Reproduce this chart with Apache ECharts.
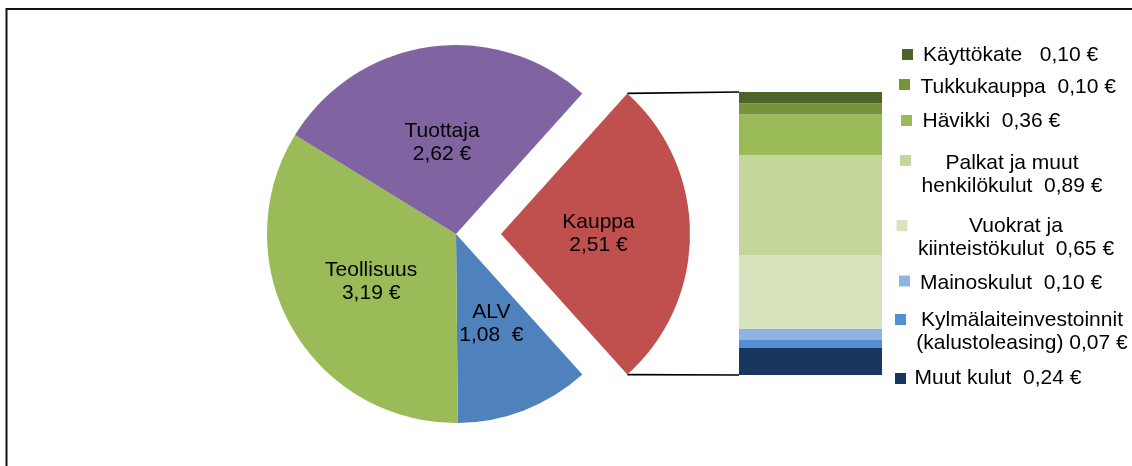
<!DOCTYPE html>
<html><head><meta charset="utf-8">
<script src="https://cdn.jsdelivr.net/npm/echarts@6/dist/echarts.min.js"></script>
<style>html,body{margin:0;padding:0;background:#fff}#c{width:1132px;height:466px}</style>
</head><body><div id="c"></div>
<script>
// ---- data ----
const pieNames = ['Kauppa', 'ALV', 'Teollisuus', 'Tuottaja'];
const pieValues = [2.51, 1.08, 3.19, 2.62];
const pieValueSep = [' ', '  ', ' ', ' '];
const barNames = ['Käyttökate', 'Tukkukauppa', 'Hävikki', 'Palkat ja muut\nhenkilökulut', 'Vuokrat ja\nkiinteistökulut', 'Mainoskulut', 'Kylmälaiteinvestoinnit\n(kalustoleasing)', 'Muut kulut'];
const barValues = [0.10, 0.10, 0.36, 0.89, 0.65, 0.10, 0.07, 0.24];
const barLegendSep = ['   ', '  ', '  ', '  ', '  ', '  ', ' ', '  '];

// ---- styles / layout ----
const pieColors = ['#C0504D', '#4F81BD', '#9BBB59', '#8064A2'];
const pieLabelDy = [0, -1, 0, 5];
const barColors = ['#4F6228', '#77933C', '#9BBB59', '#C3D69B', '#D7E4BD', '#8EB4E3', '#558ED5', '#17375E'];
const FONT = '"Liberation Sans", Arial, sans-serif';
const FS = 21;
const pieCenter = [456, 234], pieR = 189, pieOffset = 45;
const grid = {left: 739, top: 92, width: 143, height: 283};
const legendLayout = [
  {mx: 907.5, my: 54.5, tx: 923, ty: 55, align: 'left'},
  {mx: 904.5, my: 84.5, tx: 920.5, ty: 87, align: 'left'},
  {mx: 906.5, my: 120.5, tx: 922.5, ty: 121, align: 'left'},
  {mx: 905.5, my: 160.5, tx: 1012, ty: 175, align: 'center'},
  {mx: 902, my: 225.5, tx: 1016, ty: 238, align: 'center'},
  {mx: 904.5, my: 281, tx: 920, ty: 283, align: 'left'},
  {mx: 900.5, my: 319.5, tx: 1022, ty: 331.5, align: 'center'},
  {mx: 900.5, my: 378.5, tx: 914.5, ty: 378, align: 'left'}
];

const fmt = v => v.toFixed(2).replace('.', ',');
const total = pieValues.reduce((a, b) => a + b, 0);
const startAngle = pieValues[0] / total * 180;

// connector lines from exploded slice tips to bar corners
const a = startAngle * Math.PI / 180;
const tipX = pieCenter[0] + pieOffset + pieR * Math.cos(a);
const tipTop = pieCenter[1] - pieR * Math.sin(a);
const tipBot = pieCenter[1] + pieR * Math.sin(a);

const graphics = [
  {type: 'rect', z: -10, shape: {x: 6.5, y: 9, width: 1300, height: 700}, style: {fill: 'none', stroke: '#111', lineWidth: 2}},
  {type: 'line', shape: {x1: tipX, y1: tipTop, x2: grid.left, y2: grid.top}, style: {stroke: '#000', lineWidth: 1.6}},
  {type: 'line', shape: {x1: tipX, y1: tipBot, x2: grid.left, y2: grid.top + grid.height}, style: {stroke: '#000', lineWidth: 1.6}}
];
barNames.forEach((n, i) => {
  const L = legendLayout[i];
  graphics.push({type: 'rect', shape: {x: L.mx - 5.5, y: L.my - 5.5, width: 11, height: 11}, style: {fill: barColors[i]}});
  graphics.push({type: 'text', x: L.tx, y: L.ty, style: {
    text: n + barLegendSep[i] + fmt(barValues[i]) + ' €',
    fontSize: FS, fontFamily: FONT, fill: '#000', align: L.align, verticalAlign: 'middle', lineHeight: 23
  }});
});

const barSeries = [];
for (let i = barNames.length - 1; i >= 0; i--) {
  barSeries.push({
    type: 'bar', name: barNames[i], stack: 'k', data: [barValues[i]],
    barWidth: '100%', itemStyle: {color: barColors[i]}, emphasis: {disabled: true}
  });
}

const chart = echarts.init(document.getElementById('c'), null, {renderer: 'canvas'});
chart.setOption({
  animation: false,
  backgroundColor: '#fff',
  grid: {left: grid.left, top: grid.top, width: grid.width, height: grid.height, containLabel: false},
  xAxis: {type: 'category', data: ['Kauppa'], show: false},
  yAxis: {type: 'value', min: 0, max: barValues.reduce((s, v) => s + v, 0), show: false},
  graphic: graphics,
  series: [
    {
      type: 'pie', center: pieCenter, radius: pieR, startAngle: startAngle, clockwise: true,
      selectedMode: 'single', selectedOffset: pieOffset,
      data: pieNames.map((n, i) => ({name: n, value: pieValues[i], selected: i === 0, itemStyle: {color: pieColors[i]}})),
      itemStyle: {borderWidth: 0},
      label: {
        position: 'inside', color: '#000', fontSize: FS, fontFamily: FONT, lineHeight: 23,
        formatter: p => p.name + '\n' + fmt(p.value) + pieValueSep[p.dataIndex] + '€'
      },
      labelLayout: p => ({dy: pieLabelDy[p.dataIndex]}),
      labelLine: {show: false},
      emphasis: {disabled: true}
    },
    ...barSeries
  ]
});
</script></body></html>
